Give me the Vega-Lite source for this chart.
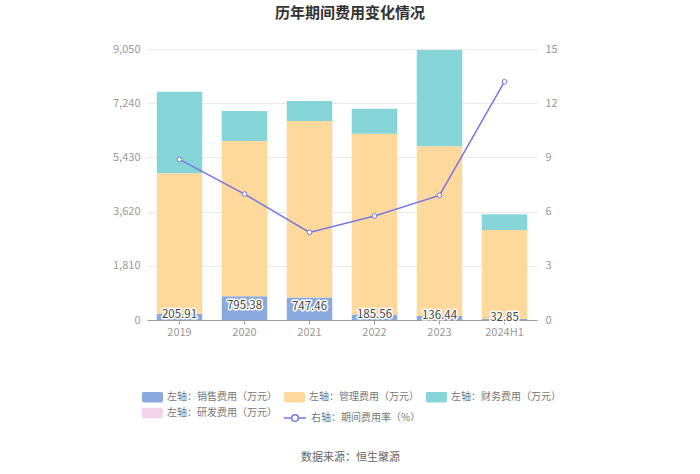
{
  "$schema": "https://vega.github.io/schema/vega-lite/v6.json",
  "width": 390,
  "height": 271,
  "autosize": {"type": "none"},
  "padding": {"left": 147, "top": 49, "right": 163, "bottom": 154},
  "background": "white",
  "config": {"font": "Noto Sans CJK SC", "view": {"stroke": null}},
  "title": {"text": "历年期间费用变化情况", "anchor": "middle", "dx": 8, "offset": 22, "fontSize": 15, "fontWeight": "bold", "color": "#333333"},
  "datasets": {
    "costs": [
      {"year": "2019", "type": "左轴：销售费用（万元）", "ord": 1, "value": 205.91},
      {"year": "2019", "type": "左轴：管理费用（万元）", "ord": 2, "value": 4692},
      {"year": "2019", "type": "左轴：财务费用（万元）", "ord": 3, "value": 2726},
      {"year": "2019", "type": "左轴：研发费用（万元）", "ord": 4, "value": 0},
      {"year": "2020", "type": "左轴：销售费用（万元）", "ord": 1, "value": 795.38},
      {"year": "2020", "type": "左轴：管理费用（万元）", "ord": 2, "value": 5182},
      {"year": "2020", "type": "左轴：财务费用（万元）", "ord": 3, "value": 1002},
      {"year": "2020", "type": "左轴：研发费用（万元）", "ord": 4, "value": 0},
      {"year": "2021", "type": "左轴：销售费用（万元）", "ord": 1, "value": 747.46},
      {"year": "2021", "type": "左轴：管理费用（万元）", "ord": 2, "value": 5898},
      {"year": "2021", "type": "左轴：财务费用（万元）", "ord": 3, "value": 668},
      {"year": "2021", "type": "左轴：研发费用（万元）", "ord": 4, "value": 0},
      {"year": "2022", "type": "左轴：销售费用（万元）", "ord": 1, "value": 185.56},
      {"year": "2022", "type": "左轴：管理费用（万元）", "ord": 2, "value": 6036},
      {"year": "2022", "type": "左轴：财务费用（万元）", "ord": 3, "value": 834},
      {"year": "2022", "type": "左轴：研发费用（万元）", "ord": 4, "value": 0},
      {"year": "2023", "type": "左轴：销售费用（万元）", "ord": 1, "value": 136.44},
      {"year": "2023", "type": "左轴：管理费用（万元）", "ord": 2, "value": 5664},
      {"year": "2023", "type": "左轴：财务费用（万元）", "ord": 3, "value": 3218},
      {"year": "2023", "type": "左轴：研发费用（万元）", "ord": 4, "value": 0},
      {"year": "2024H1", "type": "左轴：销售费用（万元）", "ord": 1, "value": 32.85},
      {"year": "2024H1", "type": "左轴：管理费用（万元）", "ord": 2, "value": 2972},
      {"year": "2024H1", "type": "左轴：财务费用（万元）", "ord": 3, "value": 523},
      {"year": "2024H1", "type": "左轴：研发费用（万元）", "ord": 4, "value": 0}
    ],
    "rates": [
      {"year": "2019", "series": "右轴：期间费用率（%）", "rate": 8.89},
      {"year": "2020", "series": "右轴：期间费用率（%）", "rate": 6.97},
      {"year": "2021", "series": "右轴：期间费用率（%）", "rate": 4.85},
      {"year": "2022", "series": "右轴：期间费用率（%）", "rate": 5.76},
      {"year": "2023", "series": "右轴：期间费用率（%）", "rate": 6.90},
      {"year": "2024H1", "series": "右轴：期间费用率（%）", "rate": 13.19}
    ]
  },
  "layer": [
    {
      "data": {"name": "costs"},
      "mark": {"type": "bar"},
      "encoding": {
        "x": {
          "field": "year", "type": "nominal", "sort": null,
          "scale": {"paddingInner": 0.3, "paddingOuter": 0.15},
          "axis": {
            "title": "数据来源：恒生聚源", "titleX": 203, "titleY": 137, "titleAlign": "center", "titleBaseline": "middle",
            "titleFontSize": 11, "titleFontWeight": "normal", "titleColor": "#666666",
            "labelAngle": 0, "labelColor": "#999999", "labelFontSize": 11, "labelPadding": 2,
            "domainColor": "#999999", "tickColor": "#999999", "tickSize": 4, "grid": false
          }
        },
        "y": {
          "field": "value", "type": "quantitative", "stack": "zero",
          "scale": {"domain": [0, 9050], "nice": false, "zero": true},
          "axis": {
            "orient": "left", "title": null, "values": [0, 1810, 3620, 5430, 7240, 9050], "format": ",.0f",
            "grid": true, "gridColor": "#eaeaea", "domain": false, "ticks": false,
            "labelColor": "#999999", "labelFontSize": 11, "labelPadding": 7
          }
        },
        "fill": {
          "field": "type", "type": "nominal",
          "scale": {
            "domain": ["左轴：销售费用（万元）", "左轴：管理费用（万元）", "左轴：财务费用（万元）", "左轴：研发费用（万元）"],
            "range": ["#8aaade", "#ffd89c", "#86d5d8", "#f2d5ea"]
          },
          "legend": {
            "title": null, "orient": "none", "legendX": -5, "legendY": 337.5, "direction": "horizontal", "columns": 3,
            "columnPadding": 7, "rowPadding": -1, "padding": 0,
            "symbolType": "M-0.85,-0.5 H0.85 A0.15,0.15 0 0 1 1,-0.35 V0.35 A0.15,0.15 0 0 1 0.85,0.5 H-0.85 A0.15,0.15 0 0 1 -1,0.35 V-0.35 A0.15,0.15 0 0 1 -0.85,-0.5 Z",
            "symbolSize": 441, "symbolStrokeWidth": 0, "symbolOpacity": 1,
            "labelFontSize": 10, "labelColor": "#777777", "labelOffset": 4, "labelLimit": 300
          }
        },
        "order": {"field": "ord", "type": "quantitative"}
      }
    },
    {
      "data": {"name": "rates"},
      "mark": {"type": "line", "strokeWidth": 1.5, "point": {"filled": false, "fill": "white", "size": 22, "strokeWidth": 1}},
      "encoding": {
        "x": {"field": "year", "type": "nominal", "sort": null},
        "y": {
          "field": "rate", "type": "quantitative",
          "scale": {"domain": [0, 15], "nice": false},
          "axis": {
            "orient": "right", "title": null, "values": [0, 3, 6, 9, 12, 15],
            "grid": false, "domain": false, "ticks": false,
            "labelColor": "#999999", "labelFontSize": 11, "labelPadding": 8
          }
        },
        "stroke": {
          "field": "series", "type": "nominal",
          "scale": {"range": ["#7676e6"]},
          "legend": {
            "title": null, "orient": "none", "legendX": 136, "legendY": 357, "padding": 0,
            "symbolType": "M-1,0 H-0.3 M0.3,0 H1 M0.3,0 A0.3,0.3 0 1 1 -0.3,0 A0.3,0.3 0 1 1 0.3,0",
            "symbolSize": 484, "symbolStrokeWidth": 1.5, "symbolStrokeColor": "#7676e6", "symbolFillColor": "white",
            "labelFontSize": 10, "labelColor": "#777777", "labelOffset": 4, "labelLimit": 300
          }
        }
      }
    },
    {
      "data": {"name": "costs"},
      "transform": [{"filter": "datum.ord == 1"}],
      "mark": {"type": "text", "fontSize": 11.5, "stroke": "white", "strokeWidth": 3, "strokeJoin": "round", "fill": "white", "dy": -2},
      "encoding": {
        "x": {"field": "year", "type": "nominal", "sort": null},
        "y": {"field": "value", "type": "quantitative", "stack": null, "scale": {"domain": [0, 18100], "nice": false}, "axis": null},
        "text": {"field": "value", "type": "quantitative", "format": ".2f"}
      }
    },
    {
      "data": {"name": "costs"},
      "transform": [{"filter": "datum.ord == 1"}],
      "mark": {"type": "text", "fontSize": 11.5, "fill": "#444444", "dy": -2},
      "encoding": {
        "x": {"field": "year", "type": "nominal", "sort": null},
        "y": {"field": "value", "type": "quantitative", "stack": null, "scale": {"domain": [0, 18100], "nice": false}, "axis": null},
        "text": {"field": "value", "type": "quantitative", "format": ".2f"}
      }
    }
  ],
  "resolve": {"scale": {"y": "independent"}}
}
